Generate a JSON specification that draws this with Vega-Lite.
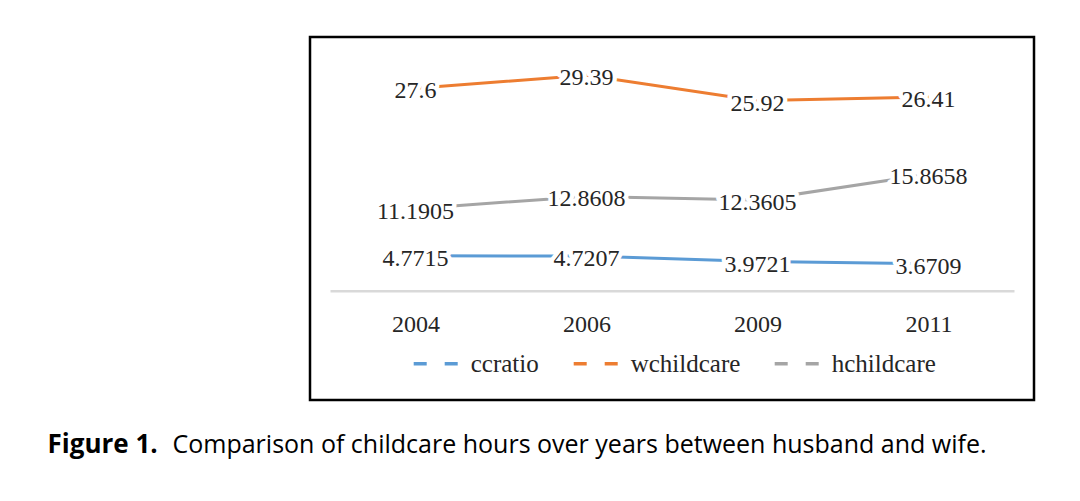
{
  "$schema": "https://vega.github.io/schema/vega-lite/v6.json",
  "width": 724,
  "height": 363,
  "autosize": {"type": "none"},
  "padding": {"left": 310, "top": 37, "right": 46, "bottom": 101},
  "background": "white",
  "config": {
    "view": {"stroke": "#000000", "strokeWidth": 2.5},
    "legend": {
      "symbolType": "stroke",
      "symbolStrokeWidth": 3.5,
      "symbolDash": [13, 18],
      "symbolSize": 1936,
      "labelFont": "Liberation Serif",
      "labelFontSize": 25,
      "labelColor": "#262626",
      "labelOffset": 11,
      "columnPadding": 27,
      "padding": 0
    }
  },
  "data": {
    "values": [
      {"year": "2004", "series": "ccratio", "value": 4.7715},
      {"year": "2006", "series": "ccratio", "value": 4.7207},
      {"year": "2009", "series": "ccratio", "value": 3.9721},
      {"year": "2011", "series": "ccratio", "value": 3.6709},
      {"year": "2004", "series": "wchildcare", "value": 27.6},
      {"year": "2006", "series": "wchildcare", "value": 29.39},
      {"year": "2009", "series": "wchildcare", "value": 25.92},
      {"year": "2011", "series": "wchildcare", "value": 26.41},
      {"year": "2004", "series": "hchildcare", "value": 11.1905},
      {"year": "2006", "series": "hchildcare", "value": 12.8608},
      {"year": "2009", "series": "hchildcare", "value": 12.3605},
      {"year": "2011", "series": "hchildcare", "value": 15.8658}
    ]
  },
  "encoding": {
    "x": {
      "field": "year",
      "type": "ordinal",
      "scale": {"type": "point", "range": [20, 704], "padding": 0.5},
      "axis": {
        "orient": "bottom",
        "offset": -109.3,
        "domainColor": "#D9D9D9",
        "domainWidth": 2.5,
        "ticks": false,
        "grid": false,
        "labelAngle": 0,
        "labelFont": "Liberation Serif",
        "labelFontSize": 24,
        "labelColor": "#262626",
        "labelBaseline": "alphabetic",
        "labelPadding": 41,
        "title": "Comparison of childcare hours over years between husband and wife.",
        "titleFont": "Open Sans",
        "titleFontSize": 25,
        "titleFontWeight": "normal",
        "titleColor": "#000000",
        "titleAlign": "left",
        "titleBaseline": "alphabetic",
        "titleAnchor": "start",
        "titleX": -138,
        "titleY": 162
      }
    },
    "y": {
      "field": "value",
      "type": "quantitative",
      "scale": {"domain": [-14.91, 34.6], "nice": false, "zero": false},
      "axis": {
        "domain": false,
        "ticks": false,
        "labels": false,
        "grid": false,
        "title": "Figure 1.",
        "titleAngle": 0,
        "titleX": -263,
        "titleY": 415.7,
        "titleAlign": "left",
        "titleBaseline": "alphabetic",
        "titleFont": "Open Sans",
        "titleFontWeight": "bold",
        "titleFontSize": 26,
        "titleColor": "#000000"
      }
    }
  },
  "layer": [
    {
      "mark": {"type": "line", "strokeWidth": 3},
      "encoding": {
        "color": {
          "field": "series",
          "type": "nominal",
          "scale": {
            "domain": ["ccratio", "wchildcare", "hchildcare"],
            "range": ["#5B9BD5", "#ED7D31", "#A5A5A5"]
          },
          "legend": {
            "title": null,
            "orient": "none",
            "direction": "horizontal",
            "legendX": 101.7,
            "legendY": 302.7
          }
        }
      }
    },
    {
      "mark": {
        "type": "text",
        "font": "Liberation Serif",
        "fontSize": 24,
        "baseline": "middle",
        "align": "center",
        "dy": 3,
        "stroke": "white",
        "strokeWidth": 9,
        "strokeJoin": "round",
        "fill": "white"
      },
      "encoding": {"text": {"field": "value", "type": "nominal"}}
    },
    {
      "mark": {
        "type": "text",
        "font": "Liberation Serif",
        "fontSize": 24,
        "baseline": "middle",
        "align": "center",
        "dy": 3,
        "fill": "#262626"
      },
      "encoding": {"text": {"field": "value", "type": "nominal"}}
    }
  ]
}
